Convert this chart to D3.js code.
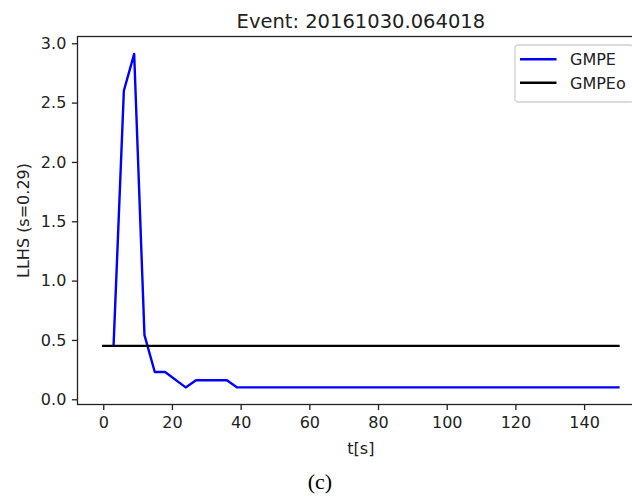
<!DOCTYPE html>
<html>
<head>
<meta charset="utf-8">
<script src="https://cdn.jsdelivr.net/npm/d3@7"></script>
<style>
  body { margin: 0; background: #fff; }
  svg { display: block; font-family: "DejaVu Sans", sans-serif; }
</style>
</head>
<body>
<svg id="chart" width="632" height="496"></svg>
<script>
// data
const tGMPE = [3, 6, 9, 12, 15, 18, 24, 27, 36, 39, 150];
const GMPE = [0.45, 2.6, 2.91, 0.54, 0.23, 0.23, 0.1, 0.16, 0.16, 0.1, 0.1];
const tGMPEo = [0, 150];
const GMPEo = [0.45, 0.45];
const xTicks = [0, 20, 40, 60, 80, 100, 120, 140];
const yTicks = [0, 0.5, 1.0, 1.5, 2.0, 2.5, 3.0];
const seriesNames = ["GMPE", "GMPEo"];
const seriesColors = ["#0000ff", "#000000"];

const plotLeft = 77.5, plotRight = 644.2, plotTop = 36.5, plotBottom = 404.5;

const xScale = d3.scaleLinear().domain([-7.5, 157.5]).range([plotLeft, plotRight]);
const yScale = d3.scaleLinear().domain([-0.044, 3.057]).range([plotBottom, plotTop]);

const chart = d3.select("#chart");

const line = d3
  .line()
  .x((d) => xScale(d[0]))
  .y((d) => yScale(d[1]));

const series = [
  d3.zip(tGMPE, GMPE),
  d3.zip(tGMPEo, GMPEo),
];

series.forEach((s, i) => {
  chart
    .append("path")
    .datum(s)
    .attr("d", line)
    .attr("fill", "none")
    .attr("stroke", seriesColors[i])
    .attr("stroke-width", 2.4)
    .attr("stroke-linejoin", "round")
    .attr("stroke-linecap", "square");
});

// spines
chart
  .append("rect")
  .attr("x", plotLeft)
  .attr("y", plotTop)
  .attr("width", plotRight - plotLeft)
  .attr("height", plotBottom - plotTop)
  .attr("fill", "none")
  .attr("stroke", "#222")
  .attr("stroke-width", 1.3);

const xAxis = d3
  .axisBottom(xScale)
  .tickValues(xTicks)
  .tickSize(5.6)
  .tickPadding(7)
  .tickFormat(d3.format("d"));
const yAxis = d3
  .axisLeft(yScale)
  .tickValues(yTicks)
  .tickSize(5.6)
  .tickPadding(5.6)
  .tickFormat(d3.format(".1f"));

const gx = chart.append("g").attr("transform", `translate(0, ${plotBottom})`).call(xAxis);
const gy = chart.append("g").attr("transform", `translate(${plotLeft}, 0)`).call(yAxis);

[gx, gy].forEach((g) => {
  g.select(".domain").remove();
  g.selectAll(".tick line").attr("stroke", "#222").attr("stroke-width", 1.3);
  g.selectAll(".tick text")
    .attr("fill", "#222")
    .style("font-size", "16px")
    .style("font-family", "DejaVu Sans");
});

// title
chart
  .append("text")
  .attr("x", (plotLeft + plotRight) / 2)
  .attr("y", 28)
  .attr("text-anchor", "middle")
  .attr("fill", "#222")
  .style("font-size", "19.5px")
  .text("Event: 20161030.064018");

// axis labels
chart
  .append("text")
  .attr("x", (plotLeft + plotRight) / 2)
  .attr("y", 453.5)
  .attr("text-anchor", "middle")
  .attr("fill", "#222")
  .style("font-size", "16px")
  .text("t[s]");

chart
  .append("text")
  .attr("transform", `translate(28.5, ${(plotTop + plotBottom) / 2}) rotate(-90)`)
  .attr("text-anchor", "middle")
  .attr("fill", "#222")
  .style("font-size", "16px")
  .text("LLHS (s=0.29)");

// caption
chart
  .append("text")
  .attr("x", 320)
  .attr("y", 489)
  .attr("text-anchor", "middle")
  .attr("fill", "#000")
  .style("font-size", "22px")
  .style("font-family", "Liberation Serif, serif")
  .text("(c)");

// legend
const legend = chart.append("g").attr("transform", "translate(515, 45)");

legend
  .append("rect")
  .attr("width", 118)
  .attr("height", 57)
  .attr("rx", 3)
  .attr("fill", "#fff")
  .attr("fill-opacity", 0.8)
  .attr("stroke", "#d0d0d0")
  .attr("stroke-width", 1.3);

seriesNames.forEach((name, i) => {
  const yy = 14.3 + i * 23.4;
  legend
    .append("line")
    .attr("x1", 5)
    .attr("x2", 41.5)
    .attr("y1", yy)
    .attr("y2", yy)
    .attr("stroke", seriesColors[i])
    .attr("stroke-width", 2.4);
  legend
    .append("text")
    .attr("x", 55)
    .attr("y", yy + 5.8)
    .attr("fill", "#222")
    .style("font-size", "16px")
    .text(name);
});
</script>
</body>
</html>
